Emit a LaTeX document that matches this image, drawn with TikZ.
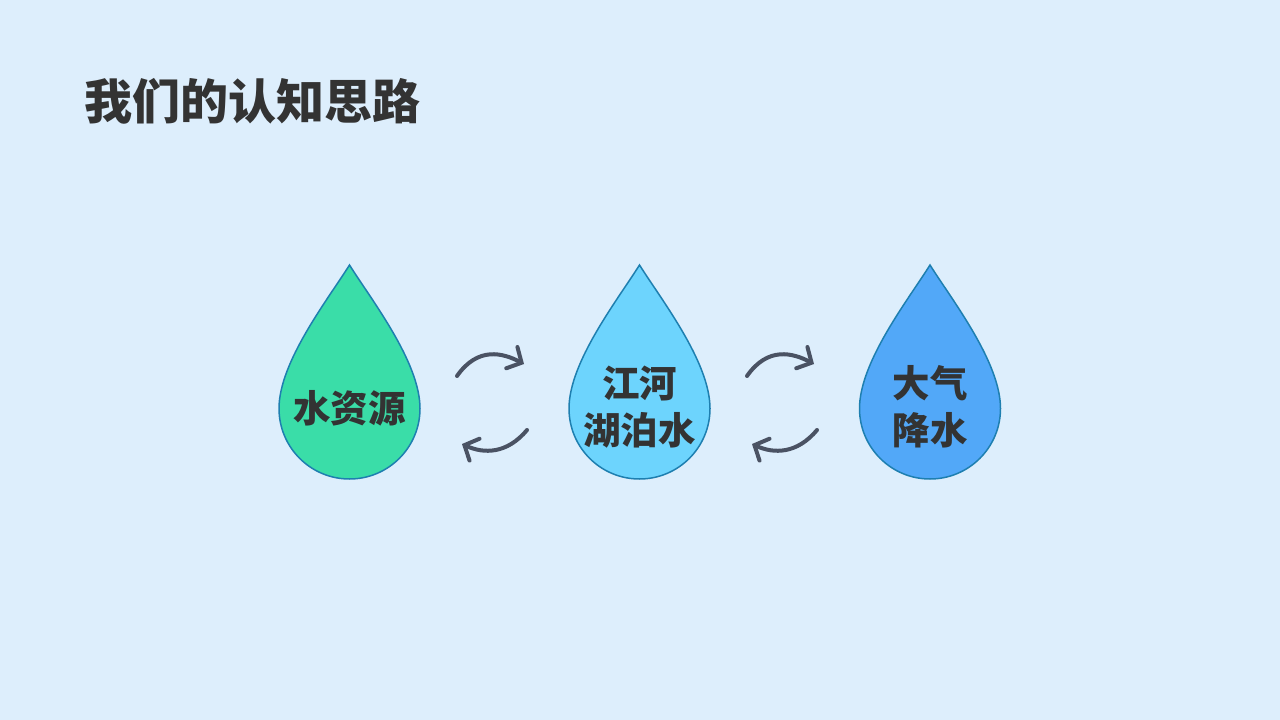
\documentclass[tikz,border=0pt]{standalone}
\usepackage{fontspec}
\newfontfamily\cjk{Noto Sans CJK SC}
\usetikzlibrary{arrows.meta}
\definecolor{bg}{HTML}{DDEEFC}
\definecolor{txt}{HTML}{333333}
\definecolor{dropA}{HTML}{3ADDA8}
\definecolor{dropB}{HTML}{6DD4FD}
\definecolor{dropC}{HTML}{52A8F8}
\definecolor{edge}{HTML}{1E7FB0}
\definecolor{arr}{HTML}{4A5263}
\tikzset{
  droplab/.style={font=\cjk\bfseries\fontsize{37.5}{47}\selectfont, text=txt, align=center, inner sep=0pt},
  dropshape/.style={draw=edge, line width=1.5pt},
  cyc/.style={draw=arr, line width=4pt, line cap=round, line join=round, -{Straight Barb[length=11pt,width=24pt,line cap=round]}},
}
\newcommand{\mydrop}[2]{%
  \path[dropshape, fill=#2] (#1,265) .. controls (#1+22,300) and (#1+70.5,362) .. (#1+70.5,408.5)
    arc[start angle=0, end angle=180, radius=70.5]
    .. controls (#1-70.5,362) and (#1-22,300) .. (#1,265) -- cycle;}
\begin{document}
\begin{tikzpicture}[x=1pt,y=-1pt]
\useasboundingbox (0,0) rectangle (1280,720);
\fill[bg] (0,0) rectangle (1280,720);
\node[anchor=west, font=\cjk\bfseries\fontsize{48}{52}\selectfont, text=txt, inner sep=0pt] (title) at (84,101) {我们的认知思路};
\mydrop{349.5}{dropA}
\mydrop{639.5}{dropB}
\mydrop{930}{dropC}
\node[droplab] (d1) at (349.5,408) {水资源};
\node[droplab] (d2) at (639.5,407) {江河\\湖泊水};
\node[droplab] (d3) at (930,407) {大气\\降水};
\coordinate (a1s) at (457,376);
\coordinate (a1e) at (524,364);
\coordinate (b1s) at (527,430);
\coordinate (b1e) at (462,444);
\coordinate (a2s) at (747,376);
\coordinate (a2e) at (814,364);
\coordinate (b2s) at (817,430);
\coordinate (b2e) at (752,444);
\draw[cyc] (a1s) .. controls (478,346) and (503,353) .. (a1e);
\draw[cyc] (b1s) .. controls (507,454) and (484,454) .. (b1e);
\draw[cyc] (a2s) .. controls (768,346) and (793,353) .. (a2e);
\draw[cyc] (b2s) .. controls (797,454) and (774,454) .. (b2e);
\end{tikzpicture}
\end{document}
